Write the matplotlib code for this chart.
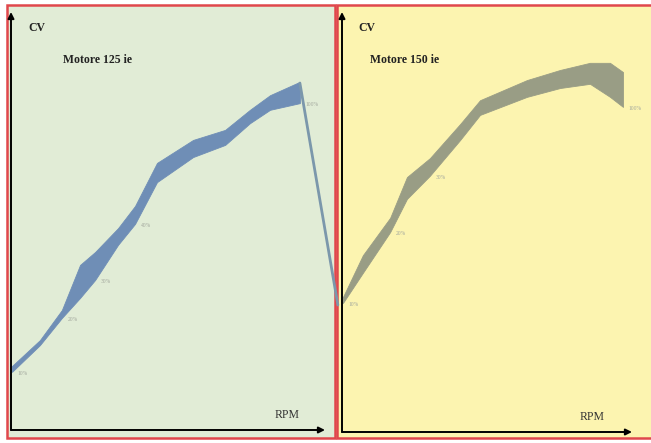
import matplotlib.pyplot as plt
from matplotlib.patches import Rectangle

# Motore 125 ie - banda di potenza (RPM %, CV)
rpm_125 = [0.3, 9.2, 16.2, 22.0, 26.8, 34.1, 39.5, 46.5, 58.0, 68.2, 76.1, 82.5, 92.0]
cv_125_hi = [15.3, 21.5, 28.7, 39.5, 42.6, 48.3, 53.6, 63.9, 69.4, 71.8, 76.6, 80.1, 83.3]
cv_125_lo = [13.9, 20.3, 26.8, 31.6, 35.9, 44.3, 49.3, 59.3, 65.3, 68.2, 73.4, 76.6, 78.2]
drop_rpm = [92.0, 104.1]
drop_cv = [83.0, 29.9]
lab_125_idx = [0, 2, 4, 6, 12]
lab_125_txt = ["10%", "20%", "30%", "40%", "100%"]

# Motore 150 ie
rpm_150 = [0.3, 7.2, 16.6, 22.4, 30.3, 40.7, 47.6, 63.8, 75.2, 85.5, 92.4, 96.9]
cv_150_hi = [32.1, 42.1, 51.0, 60.7, 65.2, 73.3, 79.0, 83.8, 86.2, 87.9, 87.9, 85.7]
cv_150_lo = [30.7, 37.9, 47.6, 55.5, 61.0, 69.5, 75.5, 79.8, 81.9, 82.9, 79.8, 77.4]
lab_150_idx = [0, 2, 4, 11]
lab_150_txt = ["10%", "20%", "30%", "100%"]

W, H = 651, 443
fig = plt.figure(figsize=(W / 100, H / 100), dpi=100)

# sfondi e cornici rosse
fig.patches.append(Rectangle((7 / W, 5 / H), 328 / W, 433 / H, transform=fig.transFigure,
                             facecolor="#e1ecd6", edgecolor="#e0474c", lw=1.8, zorder=-5))
fig.patches.append(Rectangle((337 / W, 5 / H), 320 / W, 433 / H, transform=fig.transFigure,
                             facecolor="#fcf4b0", edgecolor="#e0474c", lw=1.8, zorder=-5))


def panel(rect, x, hi, lo, color, title, idx, txt):
    ax = fig.add_axes(rect)
    ax.set_xlim(0, 100)
    ax.set_ylim(0, 100)
    ax.axis("off")
    ax.patch.set_alpha(0)
    ax.fill_between(x, lo, hi, color=color, lw=0.6, edgecolor=color, clip_on=False)
    for i, t in zip(idx, txt):
        ax.annotate(t, (x[i], lo[i]), xytext=(4, -1), textcoords="offset points",
                    fontsize=4, color="#a3a89e", family="Liberation Serif", va="center")
    arrow = dict(arrowstyle="-|>", color="black", lw=1.4, mutation_scale=9,
                 shrinkA=0, shrinkB=0)
    ax.annotate("", xy=(1, 0), xytext=(0, 0), xycoords="axes fraction", arrowprops=arrow)
    ax.annotate("", xy=(0, 1), xytext=(0, 0), xycoords="axes fraction", arrowprops=arrow)
    ax.text(0.055, 0.962, "CV", transform=ax.transAxes, fontsize=8.5, weight="bold",
            family="Liberation Serif", color="#222222", va="center")
    ax.text(title[1], 0.885, title[0], transform=ax.transAxes, fontsize=8.5, weight="bold",
            family="Liberation Serif", color="#222222", va="center")
    ax.text(title[2], 0.035, "RPM", transform=ax.transAxes, fontsize=8.5,
            family="Liberation Serif", color="#333333", va="center", ha="center")
    return ax


ax1 = panel([11 / W, 13 / H, 314 / W, 418 / H], rpm_125, cv_125_hi, cv_125_lo,
            "#6f8eb6", ("Motore 125 ie", 0.166, 0.879), lab_125_idx, lab_125_txt)
ax1.plot(drop_rpm, drop_cv, color="#7b97ab", lw=2.0, clip_on=False, solid_capstyle="round")

ax2 = panel([342 / W, 11 / H, 290 / W, 420 / H], rpm_150, cv_150_hi, cv_150_lo,
            "#999d85", ("Motore 150 ie", 0.097, 0.862), lab_150_idx, lab_150_txt)

fig.savefig("out.png", dpi=100)
